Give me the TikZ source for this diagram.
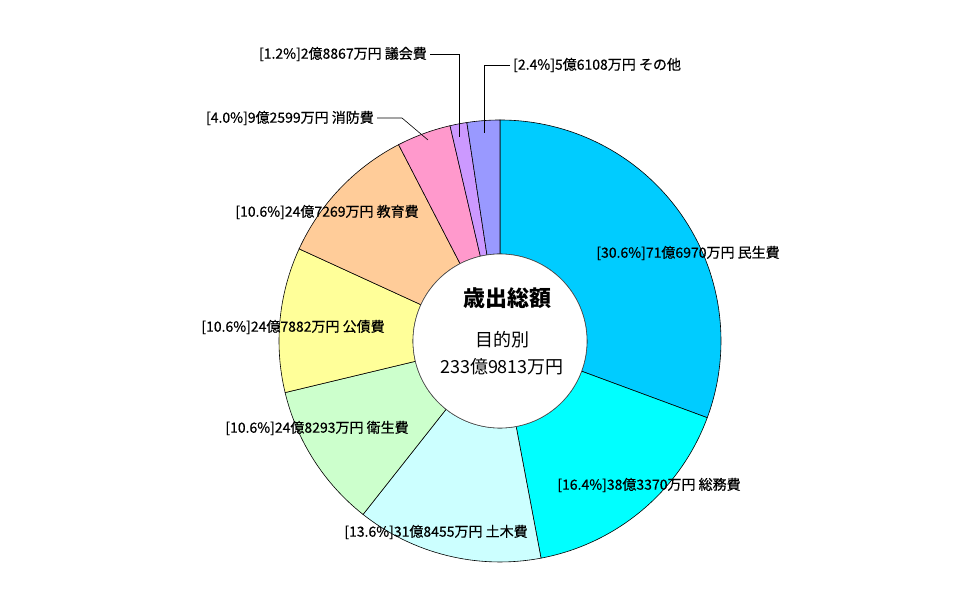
\documentclass[tikz,border=0pt]{standalone}
\usepackage{fontspec}
\newfontfamily\jp{Noto Sans CJK JP}
\newfontfamily\jpm[FakeBold=0.6]{Noto Sans CJK JP}
\usetikzlibrary{calc}
\definecolor{cMin}{HTML}{00CCFF}
\definecolor{cSom}{HTML}{00FFFF}
\definecolor{cDob}{HTML}{CCFFFF}
\definecolor{cEis}{HTML}{CCFFCC}
\definecolor{cKos}{HTML}{FFFF99}
\definecolor{cKyo}{HTML}{FFCC99}
\definecolor{cSho}{HTML}{FF99CC}
\definecolor{cGik}{HTML}{CC99FF}
\definecolor{cOth}{HTML}{9999FF}
\tikzset{
  lbl/.style={inner sep=0pt, font=\jpm\fontsize{14}{16}\selectfont},
  leader/.style={draw=black, line width=0.6pt},
  slice/.style={draw=black, line width=0.6pt}
}
\begin{document}
\begin{tikzpicture}[x=1pt,y=1pt]
\useasboundingbox (0,0) rectangle (962,596);
\fill[white] (0,0) rectangle (962,596);
\coordinate (C) at (500,255);
\def\Ro{221}
\def\Ri{87}
\foreach \a/\b/\col in {90/-20.31/cMin, -20.31/-79.30/cSom, -79.30/-128.29/cDob, -128.29/-166.50/cEis, -166.50/-204.64/cKos, -204.64/-242.68/cKyo, -242.68/-256.93/cSho, -256.93/-261.37/cGik, -261.37/-270/cOth}{
  \filldraw[slice, fill=\col] ($(C)+(\a:\Ro)$) arc[start angle=\a, end angle=\b, radius=\Ro] -- ($(C)+(\b:\Ri)$) arc[start angle=\b, end angle=\a, radius=\Ri] -- cycle;
}
\draw[line width=0.6pt, draw=black!70, fill=white] (C) circle[radius=\Ri];

% center texts
\node[inner sep=0pt, font=\jp\bfseries\fontsize{22}{24}\selectfont] (title) at (507,298) {歳出総額};
\node[inner sep=0pt, font=\jp\fontsize{18}{20}\selectfont] (sub) at (502,256) {目的別};
\node[inner sep=0pt, font=\jp\fontsize{18}{20}\selectfont] (total) at (502,229) {233億9813万円};

% labels
\node[lbl] (lMin) at (688,343) {[30.6\%]71億6970万円 民生費};
\node[lbl] (lSom) at (649,111) {[16.4\%]38億3370万円 総務費};
\node[lbl] (lDob) at (436,64) {[13.6\%]31億8455万円 土木費};
\node[lbl] (lEis) at (317,168) {[10.6\%]24億8293万円 衛生費};
\node[lbl] (lKos) at (293,269) {[10.6\%]24億7882万円 公債費};
\node[lbl] (lKyo) at (327,384) {[10.6\%]24億7269万円 教育費};
\node[lbl, anchor=east] (lSho) at (374,478) {[4.0\%]9億2599万円 消防費};
\node[lbl, anchor=east] (lGik) at (427,542) {[1.2\%]2億8867万円 議会費};
\node[lbl, anchor=west] (lOth) at (513,531) {[2.4\%]5億6108万円 その他};

% leader lines
\coordinate (eSho) at (428,456);
\coordinate (eGik) at (459,459);
\coordinate (eOth) at (484,463);
\draw[leader] ([xshift=3pt]lSho.east) -- (402,478) -- (eSho);
\draw[leader] ([xshift=3pt]lGik.east) -- (eGik |- lGik.east) -- (eGik);
\draw[leader] ([xshift=-3pt]lOth.west) -- (eOth |- lOth.west) -- (eOth);
\end{tikzpicture}
\end{document}
